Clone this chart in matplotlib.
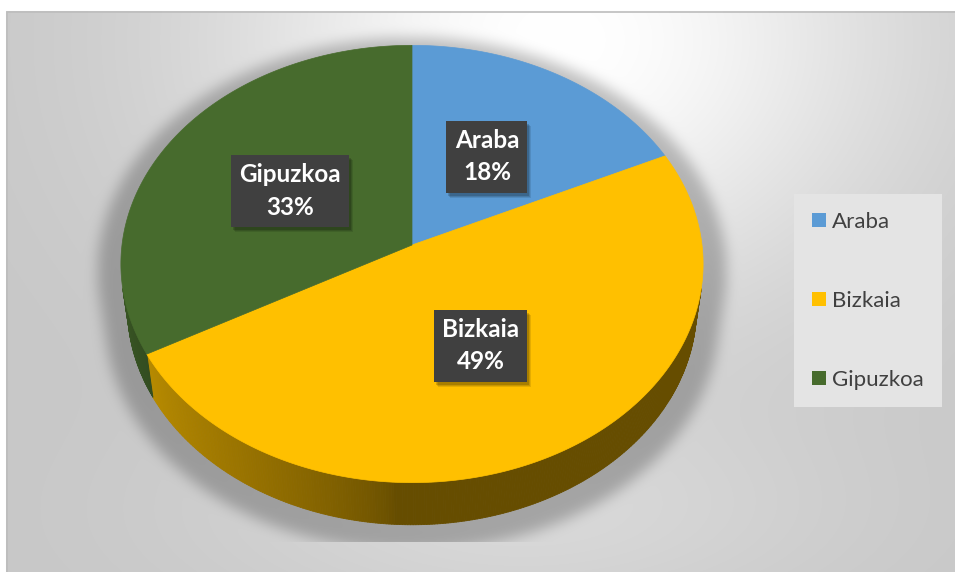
import numpy as np
import matplotlib
matplotlib.use('Agg')
import matplotlib.pyplot as plt
from matplotlib.path import Path
from matplotlib.patches import Polygon, Patch, Rectangle
from matplotlib.collections import PolyCollection

# --- data ---
regions = ['Araba', 'Bizkaia', 'Gipuzkoa']
shares = [18, 49, 33]
colors = ['#5b9bd5', '#ffc000', '#476b2d']

W, H = 955, 572

# --- pie geometry (pixel space), simple perspective camera ---
CX, CY = 412, 245          # projected pie centre
A = 290.0                  # horizontal radius in px
TILT = np.arcsin(217 / 290)
RD = 0.131                 # radius / camera distance
THICK = 0.233              # pie thickness in radius units


def project(theta_deg, z=0.0, r=1.0):
    t = np.radians(theta_deg)
    X = r * np.sin(t)
    Y = r * np.cos(t)
    v = Y * np.sin(TILT) + z * np.cos(TILT)
    w = Y * np.cos(TILT) - z * np.sin(TILT)
    d = 1 + RD * w
    return CX + A * X / d, CY - A * v / d


def box_blur(a, r):
    k = 2 * r + 1
    p = np.pad(a, r, mode='edge')
    c = np.cumsum(p, axis=0)
    c = np.vstack([np.zeros((1, c.shape[1])), c])
    a = (c[k:] - c[:-k]) / k
    c = np.cumsum(a, axis=1)
    c = np.hstack([np.zeros((c.shape[0], 1)), c])
    return (c[:, k:] - c[:, :-k]) / k


def shade(hex_color, f):
    rgb = np.array(matplotlib.colors.to_rgb(hex_color))
    return tuple(rgb * f)


edges = np.concatenate([[0], np.cumsum(shares)]) / sum(shares) * 360
# side of the cylinder facing the camera
vis = np.degrees(np.arccos(-RD / np.cos(TILT)))
vis0, vis1 = vis, 360 - vis

# --- background with soft gradient and pie shadow ---
xs = np.arange(W) + 0.5
ys = np.arange(H) + 0.5
gx, gy = np.meshgrid(xs, ys)
g = (0.78 + 0.22 * np.exp(-((gx - 560) / 340) ** 2 - ((gy - 40) / 270) ** 2)
     + 0.06 * np.exp(-((gx - 520) / 330) ** 2 - ((gy - 520) / 110) ** 2))

tb = np.linspace(vis0, vis1, 200)
tt = np.linspace(vis1, 360 + vis0, 200)
bx, by = project(tb, -THICK)
tx, ty = project(tt, 0)
sil = np.column_stack([np.concatenate([bx, tx]), np.concatenate([by, ty])])
shad = sil.copy()
shad[:, 0] = CX + (shad[:, 0] - CX) * 1.08
shad[:, 1] = CY + 25 + (shad[:, 1] - CY - 25) * 1.07 + 8
mask = Path(shad).contains_points(np.column_stack([gx.ravel(), gy.ravel()]))
mask = mask.reshape(H, W).astype(float)
mask = box_blur(box_blur(box_blur(mask, 6), 6), 6)
mask[gy > 542] = 0
g = np.clip(g * (1 - 0.24 * mask), 0, 1)
img = np.dstack([g, g, g])
img[(gx < 6) | (gy < 11)] = 1.0

fig = plt.figure(figsize=(W / 100, H / 100), dpi=100)
ax = fig.add_axes([0, 0, 1, 1])
ax.set_xlim(0, W)
ax.set_ylim(H, 0)
ax.axis('off')
ax.imshow(img, extent=(0, W, H, 0), interpolation='bilinear', zorder=0)
ax.plot([6.5, 6.5, W], [H, 11.5, 11.5], color='#bdbdbd', lw=1.2, zorder=1)

# --- cylinder side ---
for i in range(len(shares)):
    a0, a1 = max(edges[i], vis0), min(edges[i + 1], vis1)
    if a1 <= a0:
        continue
    ts = np.linspace(a0, a1, int((a1 - a0) * 2) + 2)
    polys, fcs = [], []
    for t0, t1 in zip(ts[:-1], ts[1:]):
        x0, y0 = project(t0, 0)
        x1, y1 = project(t1, 0)
        x2, y2 = project(t1, -THICK)
        x3, y3 = project(t0, -THICK)
        polys.append([(x0, y0), (x1, y1), (x2, y2), (x3, y3)])
        tm = (t0 + t1) / 2
        f = 0.40 + 0.38 * np.clip((tm - 183) / 75, 0, 1) ** 0.7
        fcs.append(shade(colors[i], f))
    ax.add_collection(PolyCollection(polys, facecolors=fcs, edgecolors=fcs,
                                     linewidths=0.6, zorder=2))

# --- top face ---
for i in range(len(shares)):
    ts = np.linspace(edges[i], edges[i + 1], 200)
    px, py = project(ts, 0)
    pts = np.column_stack([np.concatenate([[CX], px]), np.concatenate([[CY], py])])
    ax.add_patch(Polygon(pts, closed=True, fc=colors[i], ec=colors[i], lw=0.5, zorder=3))

# --- data labels ---
labels = []
for i, (name, val) in enumerate(zip(regions, shares)):
    mid = (edges[i] + edges[i + 1]) / 2
    lx, ly = project(mid, 0, 0.5)
    t = ax.text(lx, ly, f'{name}\n{val}%', ha='center', va='center', color='white',
                fontsize=17.5, fontweight='bold', family='Lato', linespacing=1.5,
                bbox=dict(boxstyle='square,pad=0.34', fc='#404040', ec='none'),
                zorder=5)
    labels.append(t)

# drop shadows behind the label boxes
fig.canvas.draw()
renderer = fig.canvas.get_renderer()
inv = ax.transData.inverted()
for t in labels:
    bb = t.get_bbox_patch().get_window_extent(renderer)
    (x0, y0), (x1, y1) = inv.transform([(bb.x0, bb.y0), (bb.x1, bb.y1)])
    for k, a in [(5, 0.10), (4, 0.12), (3, 0.16)]:
        ax.add_patch(Rectangle((min(x0, x1) + k - 1, min(y0, y1) + k),
                               abs(x1 - x0), abs(y1 - y0), fc='black', ec='none',
                               alpha=a, zorder=4))

# --- legend ---
handles = [Patch(facecolor=c, edgecolor='none') for c in colors]
leg = ax.legend(handles, regions, loc='upper left',
                bbox_to_anchor=(794 / W, 1 - 194 / H), borderaxespad=0,
                frameon=True, fancybox=False, facecolor='#e4e4e4',
                edgecolor='none', framealpha=1,
                prop=dict(family='Lato', size=16), labelcolor='#404040',
                handlelength=0.62, handleheight=0.62, handletextpad=0.3,
                labelspacing=2.65, borderpad=0.8)
leg.set_zorder(6)

fig.savefig('out.png', dpi=100)
